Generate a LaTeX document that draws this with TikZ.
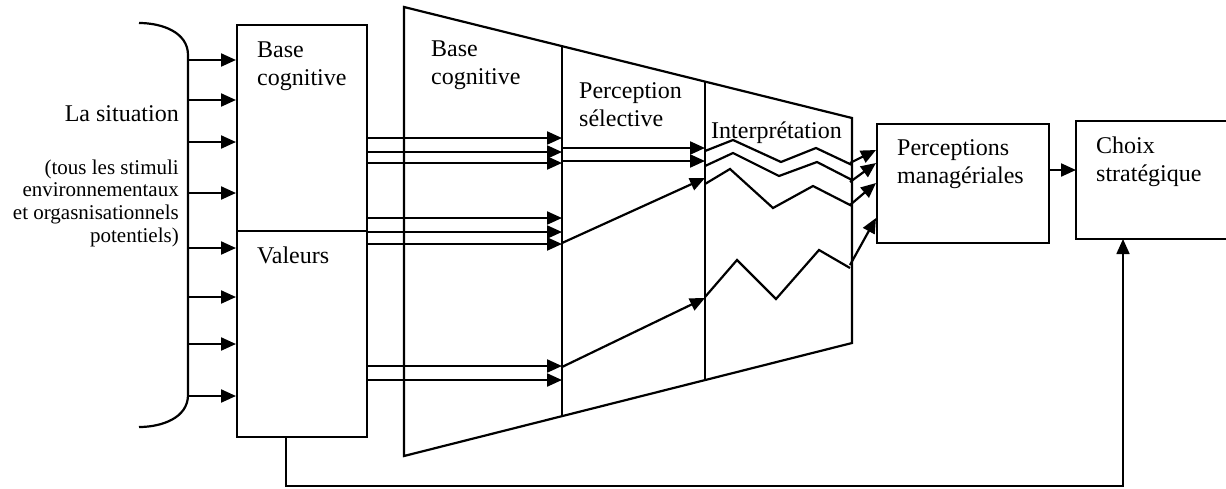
\documentclass[tikz,border=0pt]{standalone}
\usepackage{fontspec}
\setmainfont{Liberation Serif}
\usetikzlibrary{arrows.meta}
\begin{document}
\begin{tikzpicture}[x=1pt,y=-1pt,
  ln/.style={line width=2.2pt},
  arr/.style={ln,-{Triangle[length=15pt,width=13pt]}},
  fb/.style={line width=1.7pt,-{Triangle[length=15pt,width=13pt]}},
  box/.style={draw,ln,inner sep=0pt,anchor=north west},
  lbl/.style={font=\fontsize{24}{28}\selectfont,align=left,inner sep=0pt,anchor=north west},
  lblr/.style={font=\fontsize{24}{28}\selectfont,align=right,inner sep=0pt,anchor=north east},
  small/.style={font=\fontsize{21}{22.6}\selectfont,align=right,inner sep=0pt,anchor=north east}]
\useasboundingbox (0,0) rectangle (1226,488);

% situation bracket and texts
\draw[ln] (139,23) to[out=0,in=90] (188,55) coordinate (brt) -- (188,395) coordinate (brb) to[out=-90,in=0] (139,427);
\node[lblr] (sit) at (179,101.4) {\strut La situation};
\node[small] (stim) at (179,158.2) {\strut(tous les stimuli\\environnementaux\\et orgasnisationnels\\potentiels)};

% left box
\node[box,minimum width=130pt,minimum height=206pt] (bc) at (236,24) {};
\node[box,minimum width=130pt,minimum height=206pt] (val) at (236,230) {};
\node[lbl] (bct) at (257,37.4) {\strut Base\\cognitive};
\node[lbl] (valt) at (257,243.4) {\strut Valeurs};

\foreach \y in {60,100,142,193} \draw[arr] (brt |- 0,\y) -- (bc.west |- 0,\y);
\foreach \y in {248,297,344,396} \draw[arr] (brt |- 0,\y) -- (val.west |- 0,\y);

% trapezoid
\draw[ln] (404,7) coordinate (tA) -- (852,118) coordinate (tB) -- (852,343) coordinate (tC) -- (404,456) coordinate (tD) -- cycle;
\draw[ln] (562,46.2) coordinate (d1t) -- (562,416.2) coordinate (d1b);
\draw[ln] (705,81.6) coordinate (d2t) -- (705,380.1) coordinate (d2b);
\node[lbl] (bc2) at (431,36.4) {\strut Base\\cognitive};
\node[lbl] (ps) at (579,78.4) {\strut Perception\\sélective};
\node[lbl] (interp) at (711,118.4) {\strut Interprétation};

\foreach \y in {138,152,163,218,232,244,366,380} \draw[arr] (bc.east |- 0,\y) -- (d1t |- 0,\y);

\draw[arr] (d1t |- 0,148) -- (d2t |- 0,148);
\draw[arr] (d1t |- 0,161) -- (d2t |- 0,161);
\draw[arr] (d1t |- 0,243) -- (d2t |- 0,178);
\draw[arr] (d1t |- 0,367) -- (d2t |- 0,298);

% zigzags
\draw[ln] (705,151) -- (733,140) -- (781,162) -- (816,148) -- (852,165);
\draw[ln] (705,166) -- (733,153) -- (779,176) -- (817,162) -- (852,180);
\draw[ln] (705,184) -- (730,169) -- (773,208) -- (813,186) -- (852,206);
\draw[ln] (705,297) -- (737,260) -- (776,299) -- (819,250) -- (850,268);

% perceptions manageriales
\node[box,minimum width=172pt,minimum height=119pt] (pm) at (876,123) {};
\node[lbl] (pmt) at (897,135.4) {\strut Perceptions\\managériales};
\draw[arr] (850,163) -- (pm.west |- 0,150);
\draw[arr] (850,182) -- (pm.west |- 0,163);
\draw[arr] (850,205) -- (pm.west |- 0,183);
\draw[arr] (850,265) -- (pm.west |- 0,218);

% choix strategique
\draw[ln] (1226,121) -- (1076,121) coordinate (cstl) -- (1076,239) coordinate (csbl) -- (1226,239);
\coordinate (csw) at (1076,170);
\coordinate (csb) at (1123,239);
\node[lbl] (cs) at (1096,133.4) {\strut Choix\\stratégique};
\draw[arr] (pm.east |- csw) -- (csw);

% feedback
\coordinate (fb1) at (286,486);
\coordinate (fb2) at (1123,486);
\draw[fb] (val.south -| fb1) -- (fb1) -- (fb2) -- (csb);
\end{tikzpicture}
\end{document}
